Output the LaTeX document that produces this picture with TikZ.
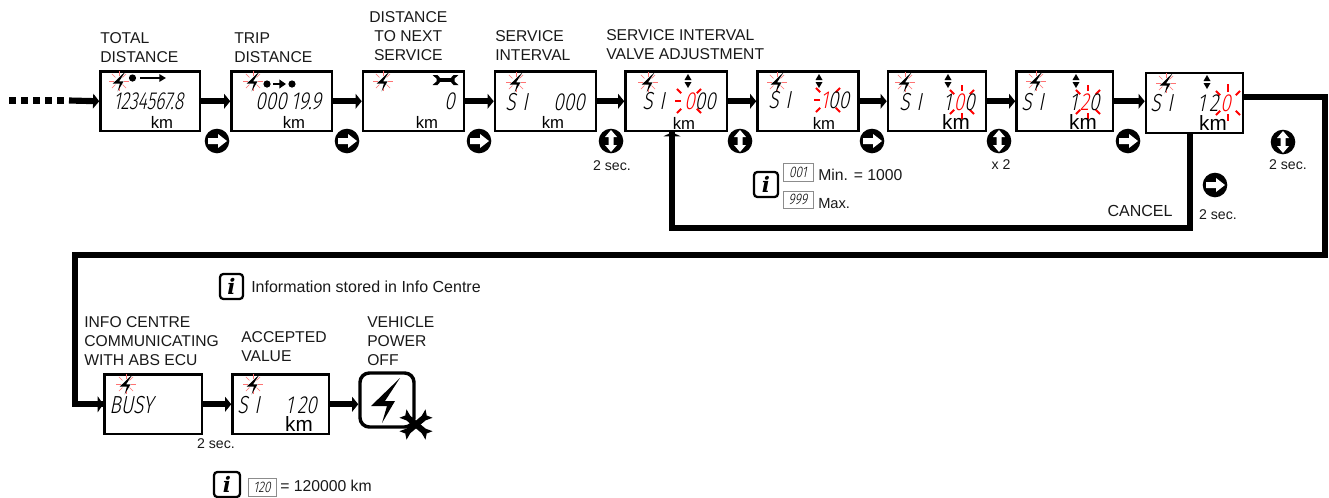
\documentclass[tikz,border=0pt]{standalone}
\usepackage{fontspec}
\setmainfont{Liberation Sans}
\newfontfamily\lcdf{Fira Sans Light}[FakeSlant=0.2,FakeStretch=0.78]
\newfontfamily\lcdn{Fira Sans Light}[FakeSlant=0.2,FakeStretch=0.72]
\newfontfamily\ifont{DejaVu Serif}
\usetikzlibrary{arrows.meta,fit}
\tikzset{
 lcdbox/.style={draw=black,line width=1.9pt,inner sep=0pt,fill=white},
 flow/.style={line width=4.6pt,-{Triangle[length=4.6pt,width=11pt]},shorten >=0pt},
 plainflow/.style={line width=4.6pt,line join=miter},
 lab/.style={inner sep=0pt,anchor=north west,align=left,font=\fontsize{11.75}{14.25}\selectfont,text=black!90},
 labc/.style={lab,align=center},
 note/.style={inner sep=0pt,font=\fontsize{10.6}{12}\selectfont,text=black!90},
 info/.style={inner sep=0pt,anchor=west,font=\fontsize{11.8}{14}\selectfont,text=black!90},
 kmsmall/.style={inner sep=0pt,font=\fontsize{12.5}{14}\selectfont},
 kmbig/.style={inner sep=0pt,font=\fontsize{15.5}{16}\selectfont},
 lcdtext/.style={inner sep=0pt,anchor=west,font=\lcdf\fontsize{18.5}{20}\selectfont},
 lcdnarrow/.style={inner sep=0pt,anchor=west,font=\lcdn\fontsize{18.5}{20}\selectfont},
 lcdmini/.style={draw=black!45,line width=.6pt,inner sep=0pt,fill=white},
 lcdminit/.style={inner sep=0pt,font=\lcdf\fontsize{11.5}{12}\selectfont},
 ibox/.style={draw=black,line width=1.7pt,rounded corners=2.5pt,inner sep=0pt},
 iglyph/.style={inner sep=0pt,font=\ifont\bfseries\itshape\fontsize{16}{16}\selectfont},
}
% screen: name x0 y0 x1 y1
\newcommand\screenbox[5]{\node[lcdbox,fit={(#2,#3) (#4,#5)}] (#1) {};}
% bolt outline, centred on the origin
\newcommand\boltglyph{(15,-22) -- (-14,6) -- (2,6) -- (-3,23) -- (10,1) -- (0,1) -- cycle}
\newcommand\flashbolt[2]{%
 \foreach \a in {0,45,...,315}{\draw[red!55,line width=.5pt] (#1,#2) ++(\a:5) -- ++(\a:5);}
 \begin{scope}[shift={(#1,#2)},scale=.45]\fill[black] \boltglyph;\end{scope}}
% red burst: x y list of angles
\newcommand\burst[3]{\foreach \a/\rI/\rO in {#3}{\draw[red,line width=1.5pt] (#1,#2) ++(\a:\rI) -- ++(\a:\rO-\rI);}}
% small up/down marks
\newcommand\updown[2]{\fill (#1-3.5,#2-1) -- (#1,#2-7) -- (#1+3.5,#2-1) -- cycle;
 \fill (#1-3.5,#2+1) -- (#1,#2+7) -- (#1+3.5,#2+1) -- cycle;}
% buttons
\newcommand\btnright[2]{\fill[black] (#1,#2) circle[radius=12.3];
 \fill[white] (#1-9,#2-3) -- (#1+1,#2-3) -- (#1+1,#2-7) -- (#1+10,#2) -- (#1+1,#2+7) -- (#1+1,#2+3) -- (#1-9,#2+3) -- cycle;}
\newcommand\btnupdown[2]{\fill[black] (#1,#2) circle[radius=12.3];
 \fill[white] (#1,#2-11) -- (#1+6,#2-4) -- (#1+2.5,#2-4) -- (#1+2.5,#2+4) -- (#1+6,#2+4) -- (#1,#2+11) -- (#1-6,#2+4) -- (#1-2.5,#2+4) -- (#1-2.5,#2-4) -- (#1-6,#2-4) -- cycle;}
% wrench
\newcommand\wrenchglyph{
 \fill (-8,-1.6) rectangle (8,1.6);
 \fill (-13,-5) -- (-8,-5) -- (-5,-1.6) -- (-5,1.6) -- (-8,5) -- (-13,5) -- (-9,1.5) -- (-9,-1.5) -- cycle;
 \fill (13,-5) -- (8,-5) -- (5,-1.6) -- (5,1.6) -- (8,5) -- (13,5) -- (9,1.5) -- (9,-1.5) -- cycle;}
\newcommand\crossbar{\fill (-17,-5.5) -- (-10,-3) -- (10,-3) -- (17,-5.5) -- (14,0) -- (17,5.5) -- (10,3) -- (-10,3) -- (-17,5.5) -- (-14,0) -- cycle;}
\begin{document}
\begin{tikzpicture}[x=.75pt,y=-.75pt]
\useasboundingbox (0,0) rectangle (1329,497);
\fill[white] (0,0) rectangle (1329,497);

% screens
\screenbox{s1}{100.5}{71.5}{200}{131}
\screenbox{s2}{231.5}{71.5}{332}{131}
\screenbox{s3}{363}{71.5}{464}{131}
\screenbox{s4}{495}{71.5}{596}{131}
\screenbox{s5}{625.5}{71.5}{727}{131}
\screenbox{s6}{757.5}{71.5}{858.5}{131}
\screenbox{s7}{888}{71.5}{986}{131}
\screenbox{s8}{1016.5}{71.5}{1113}{131}
\screenbox{s9}{1146}{73}{1243}{133}
\screenbox{s10}{104.5}{374.5}{202}{434}
\screenbox{s11}{232.5}{374.5}{329}{434}
\node[draw=black,line width=2.6pt,rounded corners=7pt,inner sep=0pt,fit={(360,373) (414,427)}] (s12) {};

% coordinates of connectors
\coordinate (d0) at (69,100.5);
\coordinate (w1) at (1325,97);
\coordinate (w2) at (1325,255);
\coordinate (w3) at (75,255);
\coordinate (w4) at (75,404);
\coordinate (c1) at (1190,228);
\coordinate (c2) at (672,228);

% connectors
\draw[line width=4.6pt,dash pattern=on 5pt off 4pt] (9,100.5) -- (64,100.5);
\draw[flow] (d0) -- (s1.west);
\draw[flow] (s1.east) -- (s2.west);
\draw[flow] (s2.east) -- (s3.west);
\draw[flow] (s3.east) -- (s4.west);
\draw[flow] (s4.east) -- (s5.west);
\draw[flow] (s5.east) -- (s6.west);
\draw[flow] (s6.east) -- (s7.west);
\draw[flow] (s7.east) -- (s8.west);
\draw[flow] (s8.east) -- (s8.east -| s9.west);
\draw[plainflow] (s9.east |- w1) -- (w1) -- (w2) -- (w3) -- (w4) -- (w4 -| s10.west);
\fill (s10.west) ++(-5.5,-8) -- ++(5.5,8) -- ++(-5.5,8) -- cycle;
\draw[plainflow] (c1 |- s9.south) -- (c1) -- (c2) -- (c2 |- s5.south);
\fill (c2 |- s5.south) ++(-8.5,4) -- ++(8.5,-4) -- ++(8.5,4) -- cycle;
\draw[flow] (s10.east) -- (s11.west);
\draw[flow] (s11.east) -- (s11.east -| s12.west);

% labels
\node[lab] (l1) at (100,32.5) {TOTAL\\DISTANCE};
\node[lab] (l2) at (234,32.5) {TRIP\\DISTANCE};
\node[labc] (l3) at (369,11.5) {DISTANCE\\TO NEXT\\SERVICE};
\node[lab] (l4) at (495,30) {SERVICE\\INTERVAL};
\node[lab] (l5) at (606,29) {SERVICE INTERVAL\\VALVE ADJUSTMENT};
\node[lab] (l6) at (84,316) {INFO CENTRE\\COMMUNICATING\\WITH ABS ECU};
\node[lab] (l7) at (241,331.5) {ACCEPTED\\VALUE};
\node[lab] (l8) at (367,316) {VEHICLE\\POWER\\OFF};

% bolts
\flashbolt{119}{81}
\flashbolt{253}{81}
\flashbolt{383}{81}
\flashbolt{516}{82}
\flashbolt{648}{82}
\flashbolt{777}{82}
\flashbolt{905}{82}
\flashbolt{1036}{81}
\flashbolt{1166}{83}
\flashbolt{126}{384}
\flashbolt{253}{384}

% status icons
\fill (132.5,78) circle[radius=3.6];
\draw[line width=1.2pt,-{Triangle[length=5pt,width=5.5pt]}] (140,78) -- (166,78);
\fill (267,84) circle[radius=3.6];
\draw[line width=1.2pt,-{Triangle[length=5pt,width=6.5pt]}] (273,84) -- (286,84);
\fill (292,84) circle[radius=3.6];
\begin{scope}[shift={(445.5,80)}]\wrenchglyph\end{scope}
\updown{688}{81}
\updown{819}{81}
\updown{948}{81}
\updown{1076}{81}
\updown{1207}{82}

% red bursts
\burst{689}{101}{180/8/14,45/11/17,135/11/17,225/11/17,315/11/17}
\burst{828}{100}{180/8/14,45/11/17,135/11/17,225/11/17,315/11/17}
\burst{962}{102}{90/11/17,270/11/17,45/11/17,135/11/17,225/11/17,315/11/17}
\burst{1088}{102}{90/11/17,270/11/17,45/11/17,135/11/17,225/11/17,315/11/17}
\burst{1228}{103}{90/11/18,270/11/19,45/11/17,135/11/17,225/11/17,315/11/17}

% LCD texts
\node[lcdnarrow] (t1) at (113,101) {1234567.8};
\node[lcdtext] (t2) at (255,101) {000\hspace{3pt}19.9};
\node[lcdtext] (t3) at (444,101) {0};
\node[lcdtext] (t4a) at (505,102) {S\hspace{5pt}I};
\node[lcdtext] (t4b) at (553,102) {000};
\node[lcdtext] (t5a) at (642,101) {S\hspace{5pt}I};
\node[lcdtext] (t5b) at (684,101) {\textcolor{red}{0}00};
\node[lcdtext] (t6a) at (768,100) {S\hspace{5pt}I};
\node[lcdtext] (t6b) at (820,100) {\textcolor{red}{1}00};
\node[lcdtext] (t7a) at (899,102) {S\hspace{5pt}I};
\node[lcdtext] (t7b) at (943,102) {1\hspace{2pt}\textcolor{red}{0}0};
\node[lcdtext] (t8a) at (1021,102) {S\hspace{5pt}I};
\node[lcdtext] (t8b) at (1069,102) {1\hspace{2pt}\textcolor{red}{2}0};
\node[lcdtext] (t9a) at (1150,103) {S\hspace{5pt}I};
\node[lcdtext] (t9b) at (1197,103) {1\hspace{3pt}2\hspace{1.5pt}\textcolor{red}{0}};
\node[lcdtext] (t10) at (109,405) {BUSY};
\node[lcdtext] (t11a) at (237,405) {S\hspace{5pt}I};
\node[lcdtext] (t11b) at (285,405) {1\hspace{3pt}20};

% km
\node[kmsmall] (k1) at (162,122) {km};
\node[kmsmall] (k2) at (294,122) {km};
\node[kmsmall] (k3) at (427,122) {km};
\node[kmsmall] (k4) at (553,122) {km};
\node[kmsmall] (k5) at (684,123) {km};
\node[kmsmall] (k6) at (824,123) {km};
\node[kmbig] (k7) at (956,122) {km};
\node[kmbig] (k8) at (1083,122) {km};
\node[kmbig] (k9) at (1213,123) {km};
\node[kmbig] (k11) at (299,424) {km};

% power box
\begin{scope}[shift={(385,400)}]\fill[black] \boltglyph;\end{scope}
\begin{scope}[shift={(416,424.5)},rotate=40]\crossbar\end{scope}
\begin{scope}[shift={(416,424.5)},rotate=-40]\crossbar\end{scope}

% buttons
\btnright{217}{141}
\btnright{347}{141}
\btnright{479}{141}
\btnupdown{611}{141}
\btnupdown{740}{141}
\btnright{872}{141}
\btnupdown{999}{141}
\btnright{1128}{141}
\btnright{1215}{185}
\btnupdown{1283}{142}

% notes
\node[note] (n1) at (612,166) {2 sec.};
\node[note] (n2) at (1001,165) {x 2};
\node[note] (n3) at (1218,215) {2 sec.};
\node[note] (n4) at (1288,165) {2 sec.};
\node[note] (n5) at (216,444) {2 sec.};
\node[info,anchor=center,font=\fontsize{12}{14}\selectfont] (n6) at (1140,211) {CANCEL};

% info blocks
\node[ibox,fit={(754,172) (778,197)}] (i1) {};
\node[iglyph] at (i1) {i};
\node[lcdmini,fit={(783,163) (813,181)}] (m1) {};
\node[lcdminit] at (m1) {001};
\node[lcdmini,fit={(783,191) (813,208)}] (m2) {};
\node[lcdminit] at (m2) {999};
\node[info] (n7) at (818,174.5) {Min. = 1000};
\node[info,font=\fontsize{11}{12}\selectfont] (n8) at (818,203.5) {Max.};
\node[ibox,fit={(220,274) (243,299)}] (i2) {};
\node[iglyph] at (i2) {i};
\node[info,font=\fontsize{12}{14}\selectfont] (n9) at (251,287) {Information stored in Info Centre};
\node[ibox,fit={(214,472) (240,497)}] (i3) {};
\node[iglyph] at (i3) {i};
\node[lcdmini,fit={(248,478) (276,496)}] (m3) {};
\node[lcdminit] at (m3) {120};
\node[info,font=\fontsize{11.8}{14}\selectfont] (n10) at (280,486) {= 120000 km};
\end{tikzpicture}
\end{document}
